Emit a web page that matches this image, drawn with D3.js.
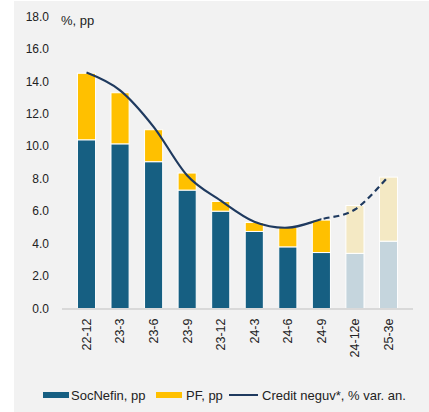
<!DOCTYPE html>
<html>
<head>
<meta charset="utf-8">
<script src="https://cdn.jsdelivr.net/npm/d3@7"></script>
<style>
  body { margin: 0; background: #fff; }
  text { font-family: "Liberation Sans", Arial, sans-serif; fill: #222; }
</style>
</head>
<body>
<div id="chart"></div>
<script>
/* credit growth decomposition: companies + households, with total credit line */
const periods = ["22-12", "23-3", "23-6", "23-9", "23-12", "24-3", "24-6", "24-9", "24-12e", "25-3e"];
const socNefin = [10.4, 10.15, 9.05, 7.3, 6.0, 4.75, 3.8, 3.45, 3.4, 4.15];
const pf = [4.1, 3.15, 1.97, 1.05, 0.6, 0.55, 1.2, 2.0, 2.95, 3.95];
const credit = [14.55, 13.45, 11.2, 8.2, 6.65, 5.35, 4.98, 5.5, 6.1, 8.15];
const yTicks = [0, 2, 4, 6, 8, 10, 12, 14, 16, 18];
const forecastFrom = 8; // index of first estimated period

const width = 429, height = 412;
const margin = { top: 16.5, right: 16, bottom: 103.5, left: 62 };

const svg = d3.select("#chart")
    .append("svg")
    .attr("width", width)
    .attr("height", height);

// grey panel
svg.append("rect")
    .attr("x", 14).attr("y", 1)
    .attr("width", width - 14).attr("height", height - 1)
    .attr("fill", "#f2f2f2");

let x = d3.scaleBand()
    .domain(periods)
    .range([margin.left, width - margin.right])
    .padding(0.46);

let y = d3.scaleLinear()
    .domain([0, 18])
    .range([height - margin.bottom, margin.top]);

// y labels
svg.append("g")
    .selectAll("text")
    .data(yTicks)
    .join("text")
    .attr("x", 49)
    .attr("y", d => y(d))
    .attr("dy", "0.35em")
    .attr("text-anchor", "end")
    .style("font-size", "12px")
    .text(d => d3.format(".1f")(d));

svg.append("text")
    .attr("x", 61)
    .attr("y", 25)
    .style("font-size", "13px")
    .text("%, pp");

// bars
let bar = svg.selectAll(".bar")
    .data(periods)
    .join("g")
    .attr("class", "bar");

bar.append("rect")
    .attr("x", d => x(d))
    .attr("width", x.bandwidth())
    .attr("y", (d, i) => y(socNefin[i]))
    .attr("height", (d, i) => y(0) - y(socNefin[i]))
    .attr("fill", (d, i) => i >= forecastFrom ? "#c5d5dd" : "#165f82")
    .attr("stroke", "#fff")
    .attr("stroke-width", 1);

bar.append("rect")
    .attr("x", d => x(d))
    .attr("width", x.bandwidth())
    .attr("y", (d, i) => y(socNefin[i] + pf[i]))
    .attr("height", (d, i) => y(socNefin[i]) - y(socNefin[i] + pf[i]))
    .attr("fill", (d, i) => i >= forecastFrom ? "#f4e9c4" : "#ffc000")
    .attr("stroke", "#fff")
    .attr("stroke-width", 1);

// baseline
svg.append("line")
    .attr("x1", margin.left).attr("x2", width - margin.right)
    .attr("y1", y(0) + 0.5).attr("y2", y(0) + 0.5)
    .attr("stroke", "#d9d9d9")
    .attr("stroke-width", 2);

// x labels, rotated
svg.append("g")
    .selectAll("text")
    .data(periods)
    .join("text")
    .attr("transform", d => `translate(${x(d) + x.bandwidth() / 2},${y(0) + 10}) rotate(-90)`)
    .attr("dy", "0.35em")
    .attr("text-anchor", "end")
    .style("font-size", "12.5px")
    .text(d => d);

// credit line: solid for actuals, dashed for estimates
const cx = d => x(d) + x.bandwidth() / 2;
const split = cx(periods[forecastFrom - 1]);
let line = d3.line()
    .x((d, i) => cx(periods[i]))
    .y(d => y(d))
    .curve(d3.curveCardinal.tension(0));

let defs = svg.append("defs");
defs.append("clipPath").attr("id", "clipSolid")
    .append("rect").attr("x", 0).attr("y", 0).attr("width", split).attr("height", height);
defs.append("clipPath").attr("id", "clipDash")
    .append("rect").attr("x", split).attr("y", 0).attr("width", width - split).attr("height", height);

svg.append("path")
    .attr("d", line(credit))
    .attr("fill", "none")
    .attr("stroke", "#1f3a5f")
    .attr("stroke-width", 2.2)
    .attr("clip-path", "url(#clipSolid)");

svg.append("path")
    .attr("d", line(credit))
    .attr("fill", "none")
    .attr("stroke", "#1f3a5f")
    .attr("stroke-width", 2.2)
    .attr("stroke-dasharray", "6,4")
    .attr("clip-path", "url(#clipDash)");

// legend
const ly = 395;
let legend = svg.append("g");
legend.append("rect").attr("x", 43).attr("y", ly - 3).attr("width", 26).attr("height", 6).attr("fill", "#165f82");
legend.append("text").attr("x", 71).attr("y", ly).attr("dy", "0.35em").style("font-size", "13px").text("SocNefin, pp");
legend.append("rect").attr("x", 156).attr("y", ly - 3).attr("width", 26).attr("height", 6).attr("fill", "#ffc000");
legend.append("text").attr("x", 186).attr("y", ly).attr("dy", "0.35em").style("font-size", "13px").text("PF, pp");
legend.append("line").attr("x1", 229).attr("x2", 258).attr("y1", ly).attr("y2", ly)
    .attr("stroke", "#1f3a5f").attr("stroke-width", 2);
legend.append("text").attr("x", 262).attr("y", ly).attr("dy", "0.35em").style("font-size", "13px").text("Credit neguv*, % var. an.");
</script>
</body>
</html>
